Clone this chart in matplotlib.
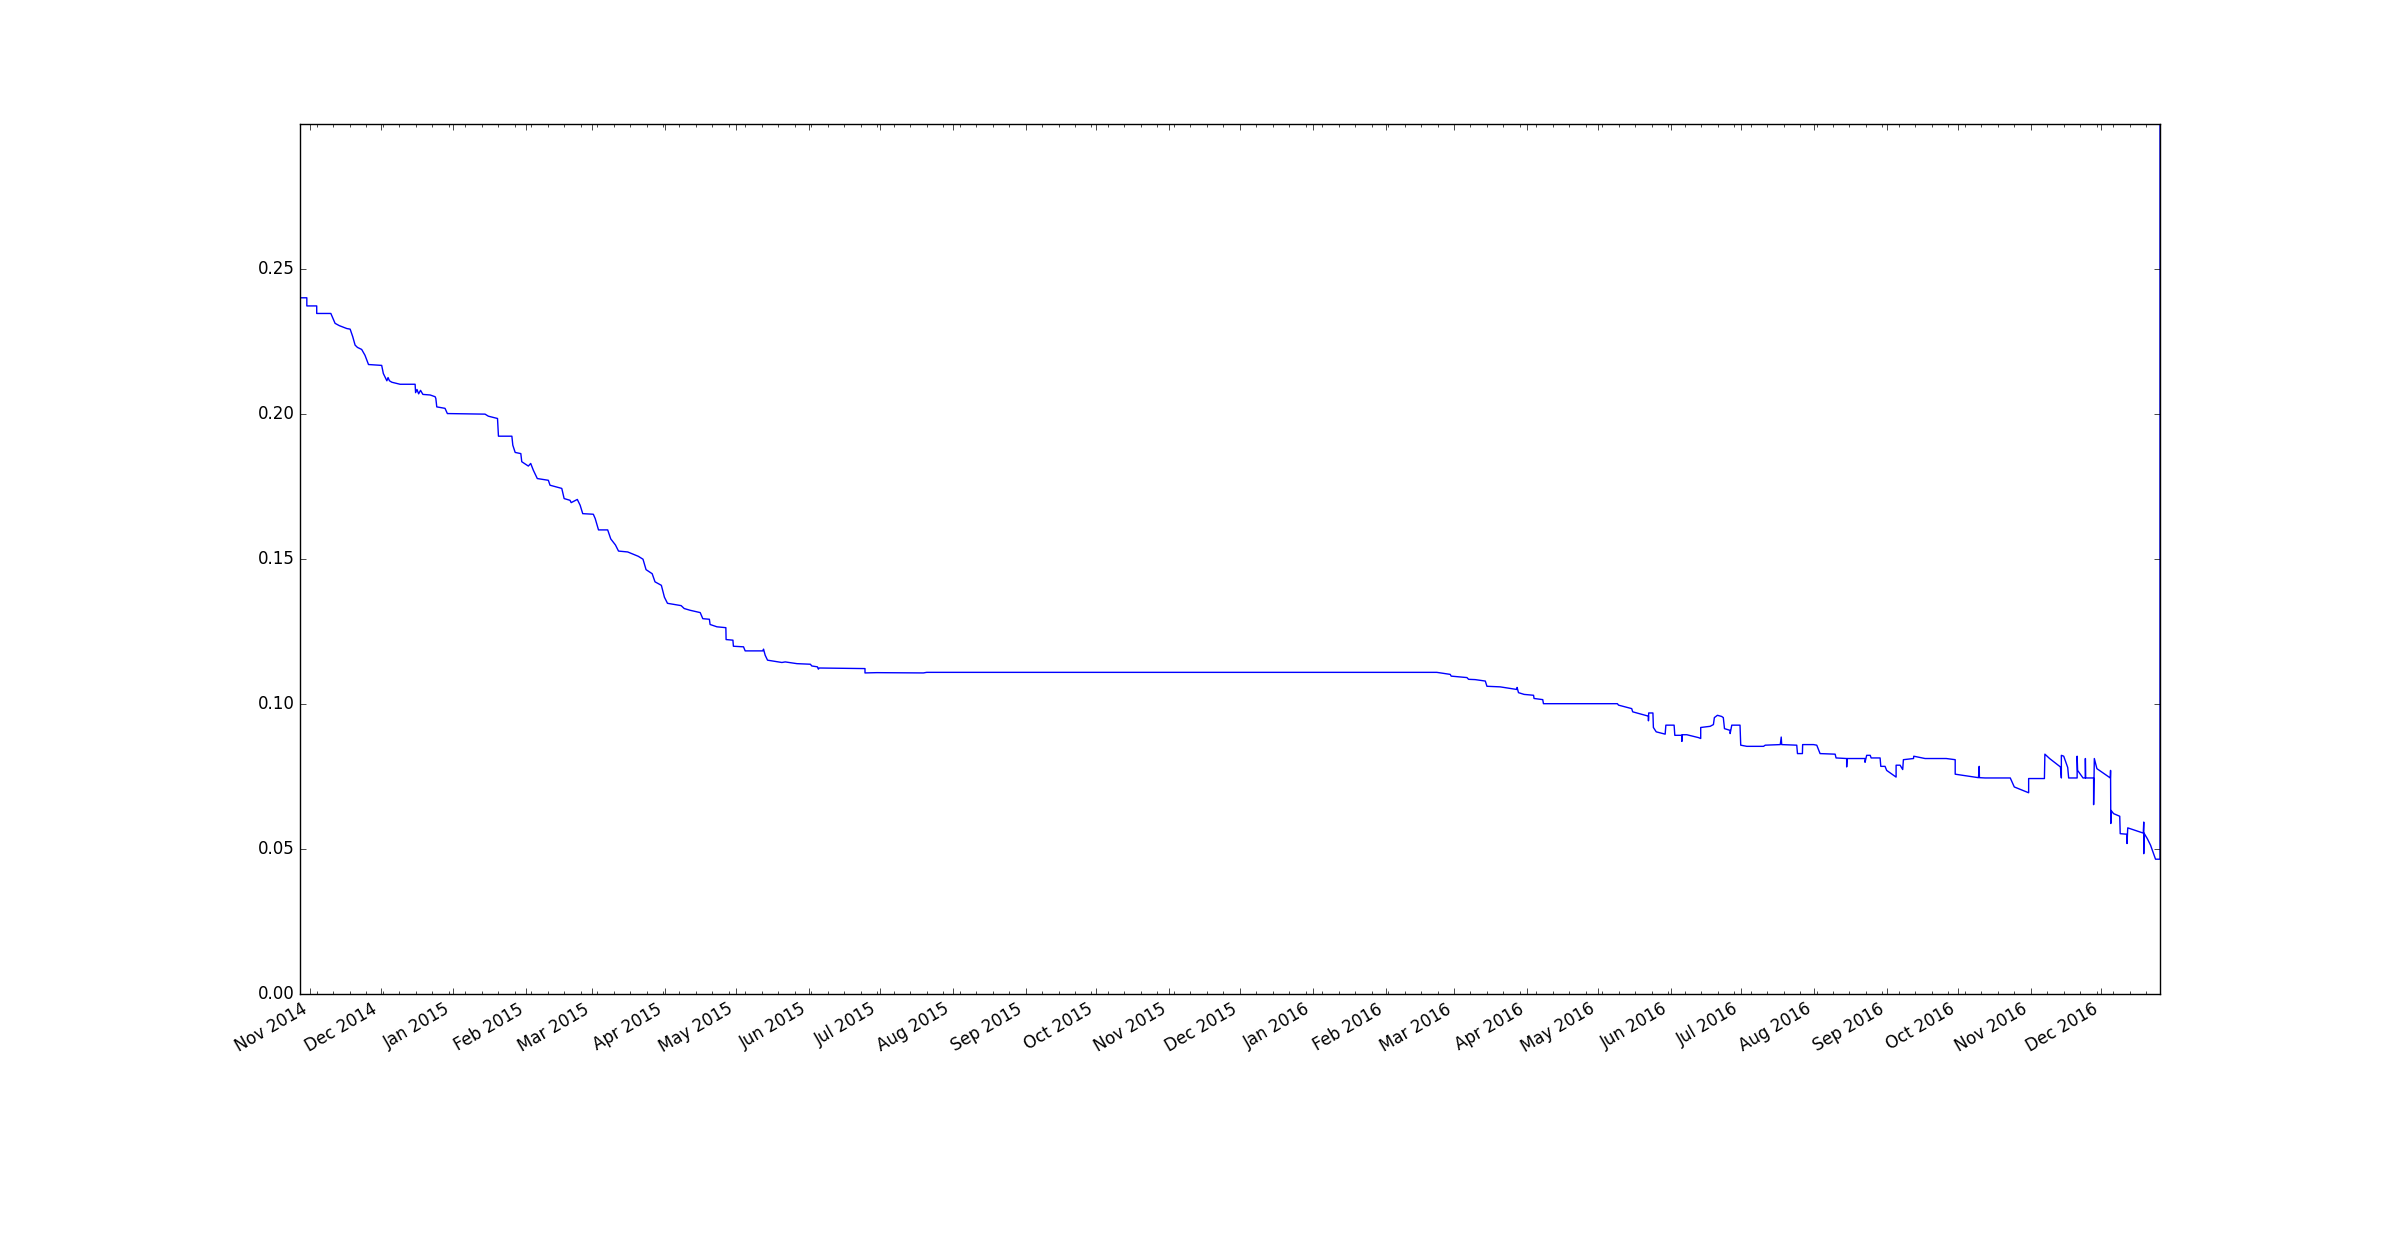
import pandas as pd
import matplotlib
matplotlib.use('Agg')
import matplotlib.pyplot as plt
import matplotlib.dates as mdates

# ---------------- data ----------------
BASE_DATE = '2014-11-01'   # day offsets below are days since this date

# Nov 2014 - Jun 2015 : steady decline
decline_days = [-4.2, -1.3, -1.3, 2.9, 2.9, 8.9, 10.7, 12.5, 15.7, 17.1, 18.2, 19.2,
                20.2, 22.0, 23.4, 24.9, 30.5, 31.2, 32.7, 33.2, 33.8, 34.8, 38.3,
                44.7, 44.9, 45.5, 46.2, 47.0, 48.0, 51.1, 53.2, 53.5, 53.9, 57.4,
                58.4, 74.4, 75.8, 79.7, 80.1, 85.8, 86.2, 87.2, 89.6, 90.0, 92.8,
                93.8, 94.9, 96.6, 101.3, 102.0, 107.0, 108.0, 110.5, 111.0, 113.6,
                114.8, 115.9, 120.4, 121.2, 122.6, 126.5, 127.8, 129.8, 131.1,
                135.0, 139.5, 141.5, 142.8, 145.4, 146.6, 149.3, 150.6, 151.9,
                157.7, 159.0, 161.5, 165.8, 166.9, 169.7, 170.0, 172.9, 176.7,
                176.8, 179.7, 179.9, 184.2, 184.9, 192.4, 192.7, 193.4, 194.4,
                199.0, 200.5, 201.9, 206.9, 212.6, 213.2, 215.6, 216.0, 216.3,
                235.8]
decline_vals = [0.2401, 0.2401, 0.2373, 0.2373, 0.2347, 0.2347, 0.2313, 0.2305, 0.2295,
                0.2293, 0.2267, 0.2238, 0.2230, 0.2223, 0.2203, 0.2171, 0.2168,
                0.2140, 0.2115, 0.2126, 0.2115, 0.2110, 0.2103, 0.2103, 0.2074,
                0.2085, 0.2070, 0.2082, 0.2068, 0.2066, 0.2060, 0.2054, 0.2025,
                0.2020, 0.2002, 0.2000, 0.1993, 0.1985, 0.1924, 0.1924, 0.1893,
                0.1868, 0.1864, 0.1836, 0.1821, 0.1830, 0.1807, 0.1778, 0.1772,
                0.1755, 0.1744, 0.1709, 0.1703, 0.1695, 0.1706, 0.1686, 0.1657,
                0.1655, 0.1640, 0.1601, 0.1601, 0.1570, 0.1549, 0.1528, 0.1525,
                0.1510, 0.1500, 0.1464, 0.1450, 0.1422, 0.1410, 0.1369, 0.1348,
                0.1340, 0.1330, 0.1324, 0.1316, 0.1295, 0.1293, 0.1275, 0.1267,
                0.1264, 0.1223, 0.1221, 0.1200, 0.1198, 0.1184, 0.1184, 0.1190,
                0.1169, 0.1152, 0.1146, 0.1144, 0.1146, 0.1140, 0.1138, 0.1132,
                0.1129, 0.1121, 0.1125, 0.1123]

# Jun 2015 - Feb 2016 : plateau
plateau_days = [235.8, 240.8, 260.6, 262.0, 478.7]
plateau_vals = [0.1108, 0.1109, 0.1108, 0.1110, 0.1110]

# Feb 2016 - Dec 2016 : second decline, noisy
late_days = [484.4, 484.8, 491.5, 492.2, 495.0, 499.3, 500.0, 505.6, 512.7, 512.8,
             513.4, 515.8, 519.8, 520.0, 523.7, 524.0, 555.4, 555.9, 561.5, 561.9,
             568.6, 568.6, 568.7, 570.5, 570.7, 571.9, 575.7, 576.0, 579.5, 579.8,
             582.8, 582.8, 582.9, 584.9, 589.9, 590.8, 590.8, 594.8, 596.2, 596.6,
             597.9, 599.7, 600.4, 600.9, 603.3, 603.3, 604.0, 607.5, 607.8, 610.4,
             617.5, 618.2, 624.6, 625.0, 625.2, 631.6, 631.9, 634.0, 634.1, 638.7,
             640.1, 641.5, 647.9, 648.3, 652.1, 652.8, 652.8, 653.0, 660.6, 660.6,
             661.3, 662.8, 663.2, 667.0, 667.3, 669.1, 669.8, 673.8, 673.8, 675.5,
             676.6, 676.9, 681.2, 681.3, 686.1, 688.0, 695.1, 698.9, 698.9, 708.8,
             709.1, 709.2, 711.6, 722.3, 724.0, 730.1, 730.1, 736.8, 737.0, 739.0,
             743.6, 744.0, 744.0, 745.0, 746.7, 747.1, 750.7, 750.7, 750.9, 753.2,
             754.2, 754.2, 754.3, 757.7, 757.7, 758.0, 759.1, 764.8, 764.9, 765.0,
             765.1, 766.2, 768.8, 769.0, 771.9, 771.9, 772.2, 778.8, 779.0, 779.0,
             779.1, 780.5, 781.9, 784.0, 785.9, 785.9]
late_vals = [0.1103, 0.1097, 0.1092, 0.1086, 0.1085, 0.1080, 0.1062, 0.1060, 0.1051,
             0.1058, 0.1040, 0.1034, 0.1031, 0.1020, 0.1016, 0.1002, 0.1002, 0.0997,
             0.0985, 0.0974, 0.0959, 0.0943, 0.0970, 0.0970, 0.0920, 0.0905, 0.0897,
             0.0928, 0.0928, 0.0893, 0.0893, 0.0872, 0.0895, 0.0895, 0.0885, 0.0882,
             0.0920, 0.0924, 0.0930, 0.0954, 0.0962, 0.0958, 0.0954, 0.0916, 0.0910,
             0.0899, 0.0928, 0.0928, 0.0859, 0.0855, 0.0855, 0.0859, 0.0861, 0.0887,
             0.0861, 0.0859, 0.0830, 0.0830, 0.0861, 0.0861, 0.0859, 0.0830, 0.0828,
             0.0815, 0.0813, 0.0813, 0.0784, 0.0813, 0.0813, 0.0800, 0.0824, 0.0824,
             0.0815, 0.0815, 0.0786, 0.0786, 0.0772, 0.0749, 0.0790, 0.0790, 0.0775,
             0.0809, 0.0813, 0.0821, 0.0813, 0.0813, 0.0813, 0.0809, 0.0759, 0.0747,
             0.0786, 0.0747, 0.0746, 0.0746, 0.0715, 0.0695, 0.0744, 0.0744, 0.0828,
             0.0813, 0.0784, 0.0746, 0.0824, 0.0821, 0.0782, 0.0746, 0.0746, 0.0821,
             0.0772, 0.0746, 0.0746, 0.0813, 0.0746, 0.0746, 0.0654, 0.0813, 0.0778,
             0.0746, 0.0772, 0.0589, 0.0634, 0.0623, 0.0614, 0.0554, 0.0552, 0.0520,
             0.0574, 0.0556, 0.0594, 0.0485, 0.0556, 0.0537, 0.0514, 0.0466, 0.0466,
             0.35]

y_ticks = [0.00, 0.05, 0.10, 0.15, 0.20, 0.25]
y_limits = (0.0, 0.2999)

# ---------------- plot ----------------
plt.style.use('classic')
plt.rcParams['figure.facecolor'] = 'white'
plt.rcParams['savefig.facecolor'] = 'white'
plt.rcParams['font.family'] = ['DejaVu Sans']

days = decline_days + plateau_days + late_days
vals = decline_vals + plateau_vals + late_vals
dates = pd.Timestamp(BASE_DATE) + pd.to_timedelta(days, unit='D')
dates = list(dates.to_pydatetime())

fig, ax = plt.subplots(figsize=(24, 12.43), dpi=100)
ax.plot(dates, vals, color='b', linewidth=1.0)

ax.set_xlim(dates[0], dates[-1])
ax.set_ylim(*y_limits)
ax.set_yticks(y_ticks)

ax.xaxis.set_major_locator(mdates.MonthLocator())
ax.xaxis.set_major_formatter(mdates.DateFormatter('%b %Y'))
ax.xaxis.set_minor_locator(mdates.WeekdayLocator(byweekday=mdates.TU))

fig.autofmt_xdate()
fig.savefig('out.png', dpi=100)
